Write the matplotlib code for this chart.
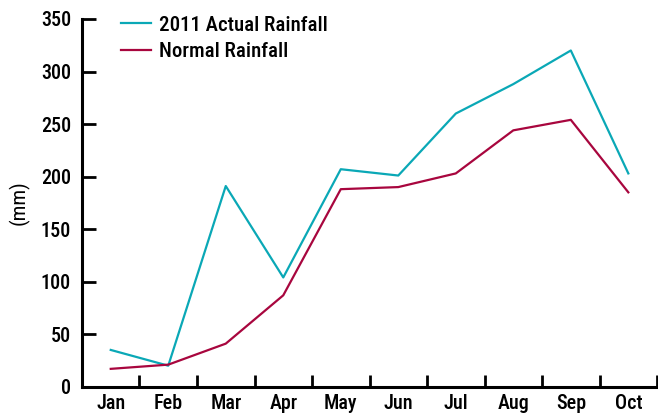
import matplotlib
matplotlib.use("Agg")
import matplotlib.pyplot as plt
from matplotlib import font_manager
import numpy as np

months = ["Jan", "Feb", "Mar", "Apr", "May", "Jun", "Jul", "Aug", "Sep", "Oct"]
actual_2011 = [35, 20, 191, 104, 207, 201, 260, 288, 320, 203]
normal = [17, 21, 41, 87, 188, 190, 203, 244, 254, 185]

# pick a condensed face if one is around
names = set(f.name for f in font_manager.fontManager.ttflist)
cands = ['Roboto Condensed', 'Archivo Narrow', 'Liberation Sans Narrow', 'Liberation Sans']
fam = [c for c in cands if c in names][:1] + ['DejaVu Sans']
plt.rcParams['font.family'] = fam
plt.rcParams['font.size'] = 14.5
plt.rcParams['font.weight'] = 'medium'

fig = plt.figure(figsize=(6.58, 4.16), dpi=100)
ax = fig.add_axes([0.1246, 0.0704, 0.874, 0.884])

x = np.arange(len(months))
ax.plot(x, actual_2011, color="#0aa8b6", lw=1.6, label="2011 Actual Rainfall")
ax.plot(x, normal, color="#a8063e", lw=1.6, label="Normal Rainfall")

ax.set_xlim(-0.5, len(months) - 0.5)
ax.set_ylim(0, 350)
ax.set_yticks(range(0, 351, 50))
ax.set_xticks(x)
ax.set_xticklabels(months)
ax.set_xticks(np.arange(-0.5, len(months), 1), minor=True)
ax.tick_params(axis="x", which="major", length=0, pad=5)
ax.tick_params(axis="x", which="minor", direction="in", length=9, width=2)
ax.tick_params(axis="y", direction="in", length=10, width=2, pad=8)

for s in ["top", "right"]:
    ax.spines[s].set_visible(False)
for s in ["left", "bottom"]:
    ax.spines[s].set_linewidth(2.2)

ax.set_ylabel("(mm)", labelpad=8, fontsize=15)
ax.legend(loc="upper left", bbox_to_anchor=(0.035, 1.06), frameon=False,
          handlelength=1.45, handletextpad=0.4, labelspacing=0.35, fontsize=15)

fig.savefig("out.png", dpi=100)
